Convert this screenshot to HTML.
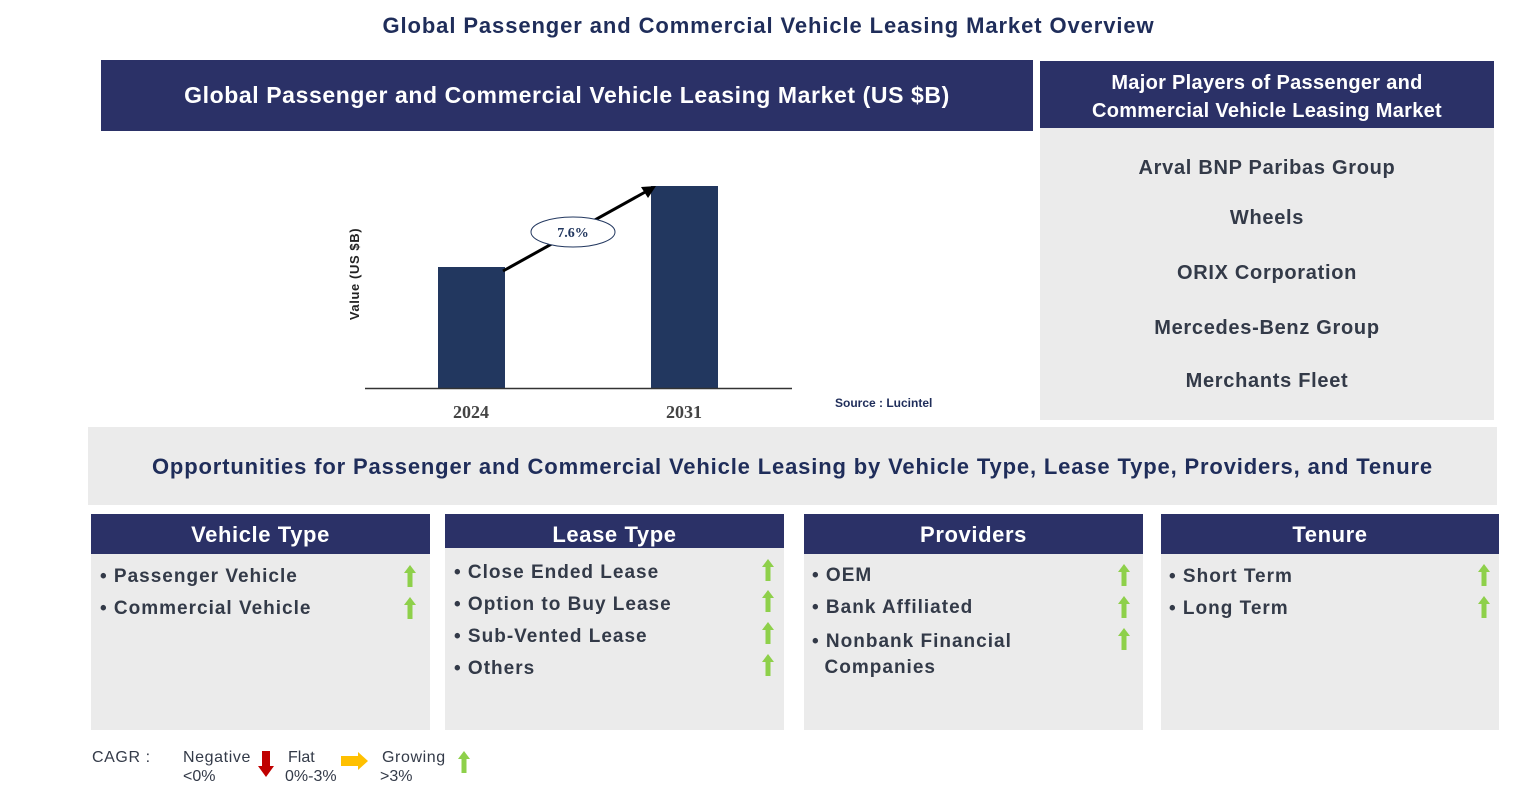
<!DOCTYPE html>
<html><head><style>
body{margin:0;width:1537px;height:812px;background:#fff;position:relative;font-family:"Liberation Sans",Arial,sans-serif;overflow:hidden}
.a{position:absolute}
.nv{background:#2b3167;color:#fff}
.g{background:#ebebeb}
.ch{font-weight:bold;font-size:22px;text-align:center;line-height:42px;letter-spacing:0.6px}
.it{position:absolute;font-size:19px;font-weight:bold;color:#333a48;letter-spacing:1px}
</style></head><body>
<div class="a" style="left:0;top:13px;width:1537px;text-align:center;font-size:22px;font-weight:bold;color:#1f2d5a;letter-spacing:0.9px">Global Passenger and Commercial Vehicle Leasing Market Overview</div>
<div class="a nv" style="left:101px;top:60px;width:932px;height:71px;line-height:71px;text-align:center;font-size:23px;font-weight:bold;letter-spacing:0.6px">Global Passenger and Commercial Vehicle Leasing Market (US $B)</div>
<div class="a nv" style="left:1040px;top:61px;width:454px;height:67px;text-align:center;font-size:20px;font-weight:bold;line-height:28px;padding-top:8px;box-sizing:border-box;letter-spacing:0.3px">Major Players of Passenger and<br>Commercial Vehicle Leasing Market</div>
<div class="a g" style="left:1040px;top:128px;width:454px;height:292px;color:#333a48;font-size:20px;font-weight:bold;text-align:center;letter-spacing:0.7px">
<div class="a" style="left:0;width:454px;top:29px">Arval BNP Paribas Group</div>
<div class="a" style="left:0;width:454px;top:79px">Wheels</div>
<div class="a" style="left:0;width:454px;top:134px">ORIX Corporation</div>
<div class="a" style="left:0;width:454px;top:189px">Mercedes-Benz Group</div>
<div class="a" style="left:0;width:454px;top:242px">Merchants Fleet</div>
</div>
<svg class="a" style="left:0;top:0" width="1000" height="430">
<rect x="438" y="267" width="67" height="121" fill="#22375f"/>
<rect x="651" y="186" width="67" height="202" fill="#22375f"/>
<line x1="365" y1="388.5" x2="792" y2="388.5" stroke="#333" stroke-width="1.5"/>
<line x1="503" y1="271" x2="647" y2="191" stroke="#000" stroke-width="3"/>
<polygon points="656,186 641,187 648,198" fill="#000"/>
<ellipse cx="573" cy="232" rx="42" ry="15" fill="#fff" stroke="#22375f"/>
<text x="573" y="237" text-anchor="middle" font-family="Liberation Serif" font-weight="bold" font-size="14" fill="#22375f">7.6%</text>
<text x="471" y="418" text-anchor="middle" font-family="Liberation Serif" font-weight="bold" font-size="18" fill="#444">2024</text>
<text x="684" y="418" text-anchor="middle" font-family="Liberation Serif" font-weight="bold" font-size="18" fill="#444">2031</text>
<text transform="translate(359,274) rotate(-90)" text-anchor="middle" font-weight="bold" font-size="13" fill="#222" letter-spacing="0.6">Value (US $B)</text>
<text x="835" y="407" font-weight="bold" font-size="12" fill="#1f2d5a">Source : Lucintel</text>
</svg>
<div class="a g" style="left:88px;top:427px;width:1409px;height:78px;line-height:80px;text-align:center;font-size:22px;font-weight:bold;color:#1f2d5a;letter-spacing:0.85px">Opportunities for Passenger and Commercial Vehicle Leasing by Vehicle Type, Lease Type, Providers, and Tenure</div>

<div class="a g" style="left:91px;top:514px;width:339px;height:216px"></div>
<div class="a nv ch" style="left:91px;top:514px;width:339px;height:40px">Vehicle Type</div>
<div class="a g" style="left:445px;top:514px;width:339px;height:216px"></div>
<div class="a nv ch" style="left:445px;top:514px;width:339px;height:34px;line-height:42px">Lease Type</div>
<div class="a g" style="left:804px;top:514px;width:339px;height:216px"></div>
<div class="a nv ch" style="left:804px;top:514px;width:339px;height:40px">Providers</div>
<div class="a g" style="left:1161px;top:514px;width:338px;height:216px"></div>
<div class="a nv ch" style="left:1161px;top:514px;width:338px;height:40px">Tenure</div>

<div class="it" style="left:100px;top:566px">• Passenger Vehicle</div>
<div class="it" style="left:100px;top:598px">• Commercial Vehicle</div>
<div class="it" style="left:454px;top:562px">• Close Ended Lease</div>
<div class="it" style="left:454px;top:594px">• Option to Buy Lease</div>
<div class="it" style="left:454px;top:626px">• Sub-Vented Lease</div>
<div class="it" style="left:454px;top:658px">• Others</div>
<div class="it" style="left:812px;top:565px">• OEM</div>
<div class="it" style="left:812px;top:597px">• Bank Affiliated</div>
<div class="it" style="left:812px;top:629px;line-height:26px">• Nonbank Financial<br>&nbsp;&nbsp;Companies</div>
<div class="it" style="left:1169px;top:566px">• Short Term</div>
<div class="it" style="left:1169px;top:598px">• Long Term</div>

<svg class="a" style="left:0;top:0" width="1537" height="812">
<defs><g id="u"><polygon points="6,0 12,8 8.5,8 8.5,22 3.5,22 3.5,8 0,8" fill="#8ed04a"/></g></defs>
<use href="#u" x="404" y="565"/><use href="#u" x="404" y="597"/>
<use href="#u" x="762" y="559"/><use href="#u" x="762" y="590"/><use href="#u" x="762" y="622"/><use href="#u" x="762" y="654"/>
<use href="#u" x="1118" y="564"/><use href="#u" x="1118" y="596"/><use href="#u" x="1118" y="628"/>
<use href="#u" x="1478" y="564"/><use href="#u" x="1478" y="596"/>
<polygon points="262,751 270,751 270,766 274,766 266,777 258,766 262,766" fill="#c00000"/>
<polygon points="341,756 358,756 358,752 368,761 358,770 358,766 341,766" fill="#ffc000"/>
<use href="#u" x="458" y="751"/>
<text x="92" y="762" font-size="16" fill="#333a48" letter-spacing="0.6">CAGR  :</text>
<text x="183" y="762" font-size="16" fill="#333a48" letter-spacing="0.6">Negative</text>
<text x="183" y="781" font-size="16" fill="#333a48">&lt;0%</text>
<text x="288" y="762" font-size="16" fill="#333a48">Flat</text>
<text x="285" y="781" font-size="16" fill="#333a48">0%-3%</text>
<text x="382" y="762" font-size="16" fill="#333a48" letter-spacing="0.6">Growing</text>
<text x="380" y="781" font-size="16" fill="#333a48">&gt;3%</text>
</svg>
</body></html>
